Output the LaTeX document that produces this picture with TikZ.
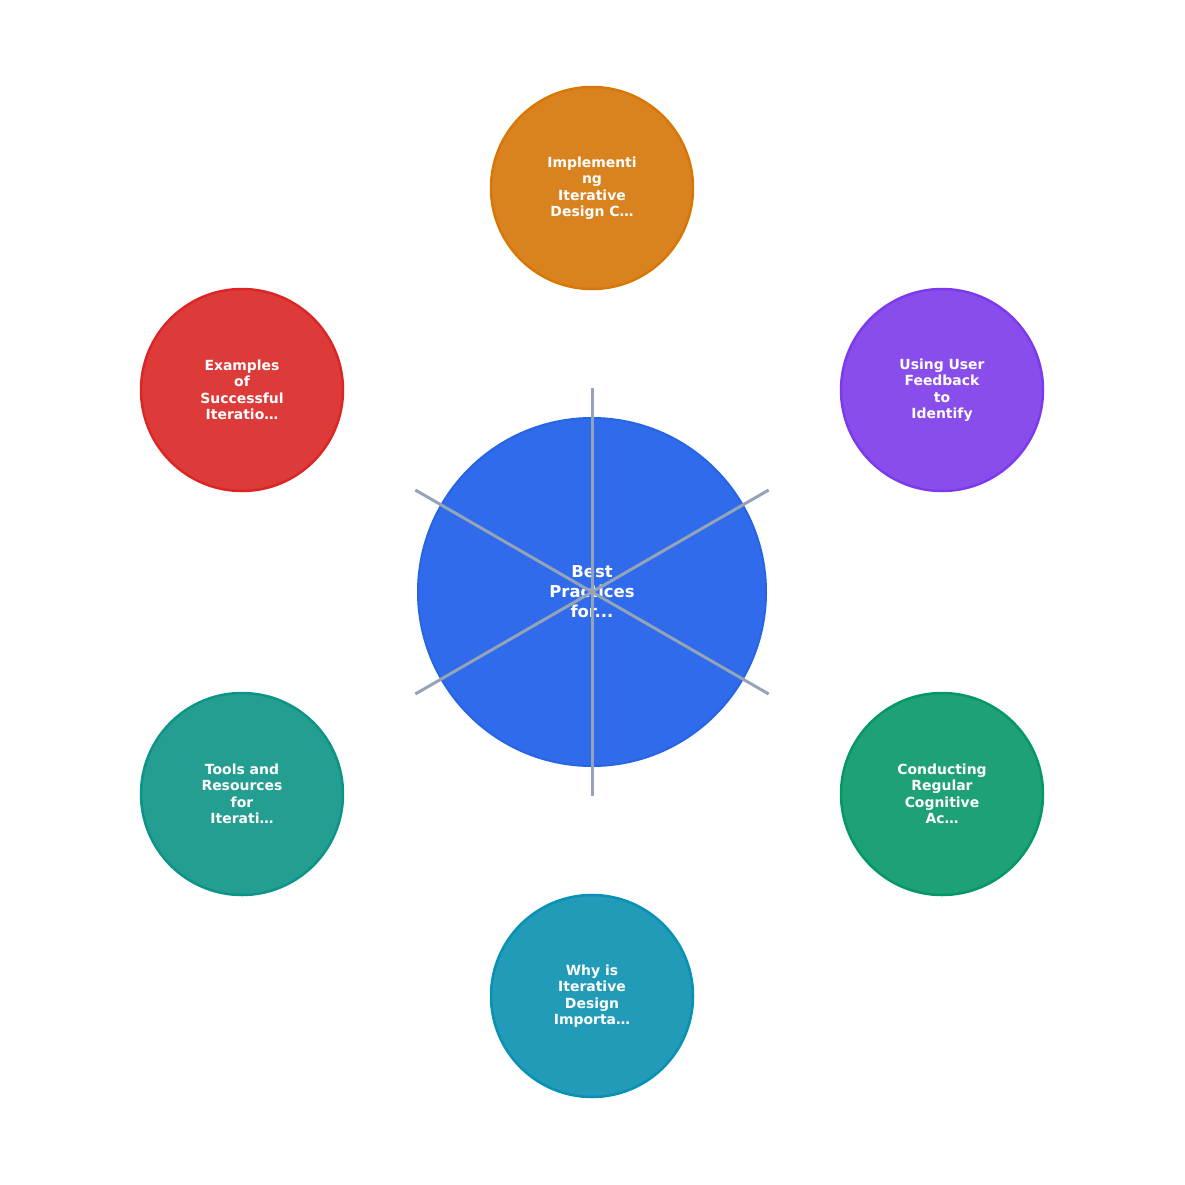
\documentclass[tikz,border=0pt]{standalone}
\usepackage{fontspec}
\setmainfont{DejaVu Sans}
\begin{document}
\begin{tikzpicture}[x=1bp,y=-1bp,
 outer/.style={circle,minimum size=202bp,inner sep=0pt,line width=2.5bp,text=white,align=center,font=\bfseries\fontsize{14}{16.5}\selectfont},
 spoke/.style={draw=gray!50!blue!30!gray,color={rgb,255:red,148;green,163;blue,184},line width=3bp}]
\useasboundingbox (0,0) rectangle (1185,1185);
\node[circle,minimum size=348bp,inner sep=0pt,fill={rgb,255:red,48;green,107;blue,235},draw={rgb,255:red,40;green,100;blue,230},line width=2bp,text=white,align=center,font=\bfseries\fontsize{16.5}{20}\selectfont] (c) at (592,592) {Best\\Practices\\for...};
\foreach \a in {90,30,-30,-90,-150,150}{
 \draw[spoke] (c.center) -- ++(\a:204);}
\node[outer,fill={rgb,255:red,217;green,131;blue,32},draw={rgb,255:red,217;green,119;blue,6}] (n1) at (592,188) {Implementi\\ng\\Iterative\\Design C…};
\node[outer,fill={rgb,255:red,137;green,77;blue,236},draw={rgb,255:red,124;green,58;blue,237}] (n2) at (942,390) {Using User\\Feedback\\to\\Identify};
\node[outer,fill={rgb,255:red,30;green,161;blue,118},draw={rgb,255:red,5;green,150;blue,105}] (n3) at (942,794) {Conducting\\Regular\\Cognitive\\Ac…};
\node[outer,fill={rgb,255:red,33;green,155;blue,184},draw={rgb,255:red,8;green,145;blue,178}] (n4) at (592,996) {Why is\\Iterative\\Design\\Importa…};
\node[outer,fill={rgb,255:red,36;green,158;blue,144},draw={rgb,255:red,13;green,148;blue,136}] (n5) at (242,794) {Tools and\\Resources\\for\\Iterati…};
\node[outer,fill={rgb,255:red,221;green,58;blue,58},draw={rgb,255:red,220;green,38;blue,38}] (n6) at (242,390) {Examples\\of\\Successful\\Iteratio…};
\end{tikzpicture}
\end{document}
